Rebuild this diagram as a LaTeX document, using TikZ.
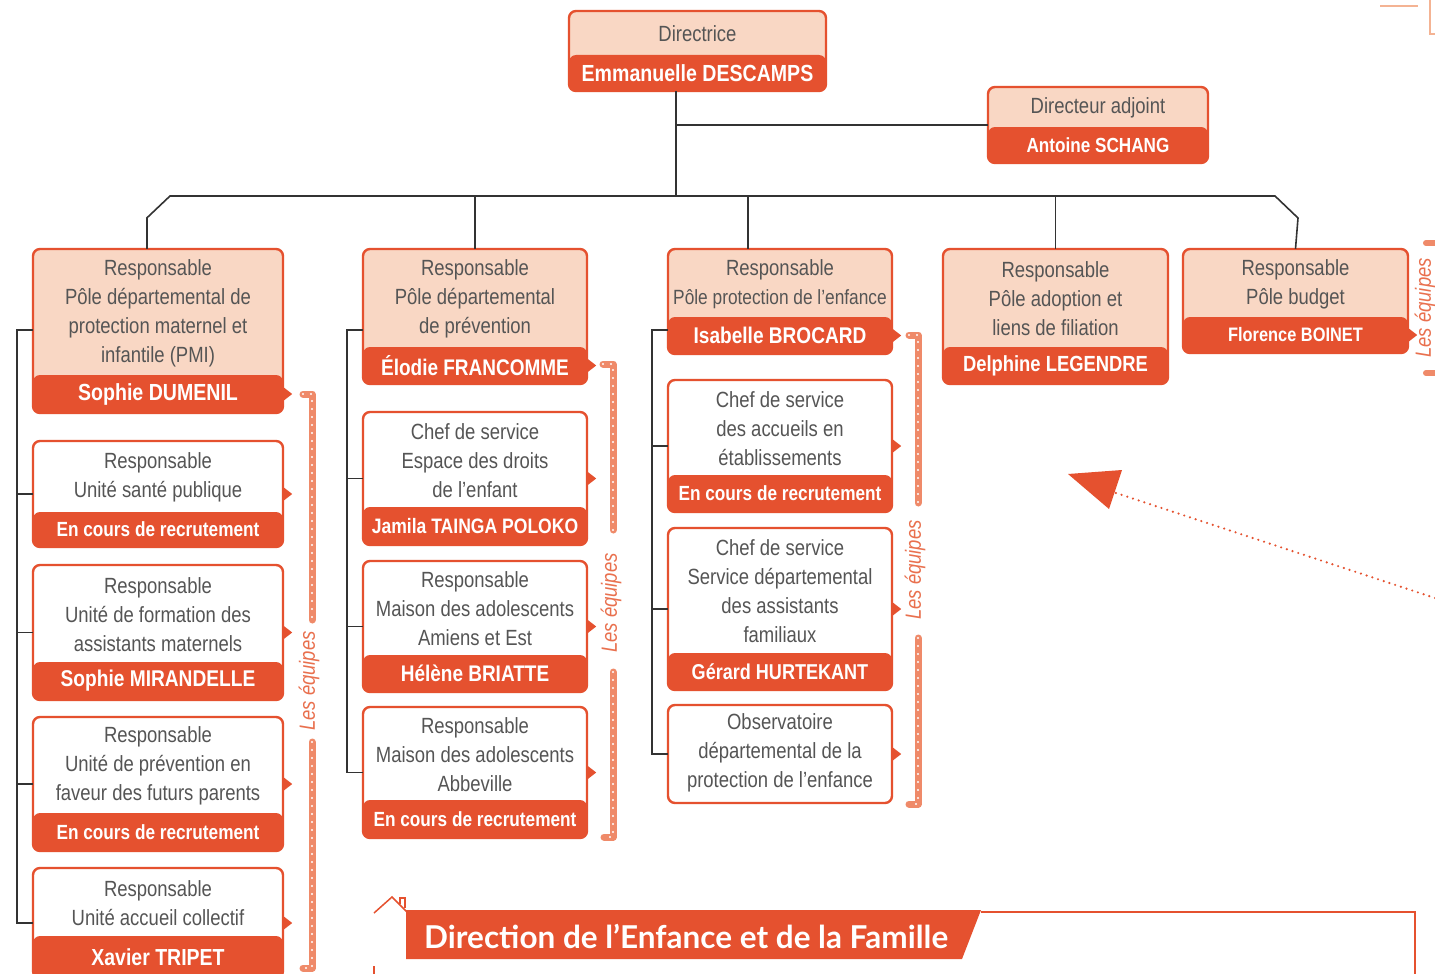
\documentclass[tikz,border=0pt]{standalone}
\usepackage{fontspec}
\setmainfont{Liberation Sans}[FakeStretch=0.84]
\newfontfamily\titlefont{Lato}
\usetikzlibrary{calc}
\definecolor{org}{HTML}{E5512F}
\definecolor{light}{HTML}{F9D7C4}
\definecolor{tgrey}{HTML}{555555}
\definecolor{barc}{HTML}{EF8A69}
\definecolor{eqc}{HTML}{E9704E}
\definecolor{paleorg}{HTML}{F4B393}
\definecolor{conc}{HTML}{333333}
\newcommand\fs[1]{\fontsize{#1}{#1}\selectfont}
\newcommand\obox[9]{%
 \node[inner sep=0pt,minimum width={(#4-#2)*1pt},minimum height={(#5-#3)*1pt}] (#1) at ({(#2+#4)/2},{(#3+#5)/2}) {};
 \fill[#7, rounded corners=7pt] (#2,#3) rectangle (#4,#5);
 \fill[org, rounded corners=7pt] (#2,#6) rectangle (#4,#5);
 \draw[org, line width=2.4pt, rounded corners=7pt] (#2,#3) rectangle (#4,#5);
 \node[txt] (#1-t) at ({(#2+#4)/2},{(#3+#6)/2+1}) {#8};
 \node[nm] (#1-n) at ({(#2+#4)/2},{(#6+#5)/2}) {#9};
}
\newcommand\ptr[1]{\fill[org] (#1) ++(0,-7) -- ++(9,7) -- ++(-9,7) -- cycle;}
\newcommand\teambar[1]{%
 \draw[barc, line width=7pt, line cap=round, line join=round] #1;
 \draw[white, line width=2.2pt, line cap=round, dash pattern=on 0pt off 8pt] #1;}
\begin{document}
\begin{tikzpicture}[x=1pt,y=-1pt,
  txt/.style={text=tgrey, align=center, inner sep=0pt, font=\fontsize{22}{29}\selectfont},
  nm/.style={text=white, inner sep=0pt, font=\bfseries},
  conn/.style={draw=conc, line width=1.6pt},
  eq/.style={text=eqc, rotate=90, inner sep=0pt, font=\itshape\fontsize{22}{22}\selectfont}]
\useasboundingbox (0,0) rectangle (1435,974);
\clip (0,0) rectangle (1435,974);
\fill[white] (0,0) rectangle (1435,974);

% top corner marks
\draw[paleorg, line width=2pt] (1380,6) -- (1418,6);
\draw[paleorg, line width=2pt] (1430,0) -- (1430,34) -- (1436,34);

% boxes
\obox{dir}{569}{11}{826}{91}{55}{light}{Directrice}{\fs{23.3}Emmanuelle DESCAMPS}
\obox{adj}{988}{87}{1208}{163}{127}{light}{Directeur adjoint}{\fs{20.4}Antoine SCHANG}

\obox{pmi}{33}{249}{283}{413}{375}{light}{Responsable\\Pôle départemental de\\protection maternel et\\infantile (PMI)}{\fs{23.3}Sophie DUMENIL}
\obox{pre}{363}{249}{587}{384}{347}{light}{Responsable\\Pôle départemental\\de prévention}{\fs{22.6}Élodie FRANCOMME}
\obox{pro}{668}{249}{892}{354}{317}{light}{Responsable\\{\fs{20.6}Pôle protection de l’enfance}}{\fs{22.7}Isabelle BROCARD}
\obox{ado}{943}{249}{1168}{384}{347}{light}{Responsable\\Pôle adoption et\\liens de filiation}{\fs{21.9}Delphine LEGENDRE}
\obox{bud}{1183}{249}{1408}{353}{317}{light}{Responsable\\Pôle budget}{\fs{19.5}Florence BOINET}

\obox{sante}{33}{441}{283}{547}{512}{white}{Responsable\\Unité santé publique}{\fs{20.5}En cours de recrutement}
\obox{form}{33}{565}{283}{700}{662}{white}{Responsable\\Unité de formation des\\assistants maternels}{\fs{22.8}Sophie MIRANDELLE}
\obox{fut}{33}{717}{283}{851}{813}{white}{Responsable\\Unité de prévention en\\faveur des futurs parents}{\fs{20.5}En cours de recrutement}
\obox{acc}{33}{868}{283}{978}{936}{white}{Responsable\\Unité accueil collectif}{\fs{23.2}Xavier TRIPET}

\obox{droit}{363}{412}{587}{545}{507}{white}{Chef de service\\Espace des droits\\de l’enfant}{\fs{20.9}Jamila TAINGA POLOKO}
\obox{ams}{363}{561}{587}{692}{655}{white}{Responsable\\Maison des adolescents\\Amiens et Est}{\fs{22.6}Hélène BRIATTE}
\obox{abb}{363}{707}{587}{838}{800}{white}{Responsable\\Maison des adolescents\\Abbeville}{\fs{20.5}En cours de recrutement}

\obox{etab}{668}{380}{892}{512}{475}{white}{Chef de service\\des accueils en\\établissements}{\fs{20.5}En cours de recrutement}
\obox{fam}{668}{528}{892}{690}{653}{white}{Chef de service\\Service départemental\\des assistants\\familiaux}{\fs{21.5}Gérard HURTEKANT}

\node[inner sep=0pt,minimum width=224pt,minimum height=98pt] (obs) at (780,754) {};
\draw[org, line width=2.4pt, rounded corners=7pt] (668,705) rectangle (892,803);
\node[txt] (obs-t) at (780,753) {Observatoire\\départemental de la\\protection de l’enfance};

% pointers
\ptr{pmi.east |- pmi-n}
\ptr{pre.east |- pre-n}
\ptr{pro.east |- pro-n}
\ptr{bud.east |- bud-n}
\foreach \b in {sante,form,fut,acc,droit,ams,abb,etab,fam,obs} {\ptr{\b.east}}

% tree connectors
\coordinate (dtop) at ([xshift=-21.5pt]dir.south);
\coordinate (busL) at (170,196);
\coordinate (busR) at (1275,196);
\draw[conn] (dtop) -- (dtop |- busL);
\draw[conn] (dtop |- adj.west) -- (adj.west);
\draw[conn] ([xshift=-11pt]pmi.north) -- ++(0,-31) -- (busL) -- (busR) -- ++(23,22) -- (bud.north);
\draw[conn] (pre.north) -- (pre.north |- busL);
\draw[conn] ([xshift=-32pt]pro.north) -- ([xshift=-32pt]pro.north |- busL);
\draw[conn] (ado.north) -- (ado.north |- busL);

\coordinate (row) at (0,330);
\coordinate (c1) at (17,330);
\coordinate (c2) at (347,330);
\coordinate (c3) at (652,330);
\draw[conn] (pmi.west |- row) -- (c1) |- (acc.west);
\foreach \b in {sante,form,fut} {\draw[conn] (c1 |- \b.west) -- (\b.west);}
\draw[conn] (pre.west |- row) -- (c2) |- (abb.west);
\foreach \b in {droit,ams} {\draw[conn] (c2 |- \b.west) -- (\b.west);}
\draw[conn] (pro.west |- row) -- (c3) |- (obs.west);
\foreach \b in {etab,fam} {\draw[conn] (c3 |- \b.west) -- (\b.west);}

% Les equipes bars
\teambar{(303,394) -- (312,394) -- (312,620)}
\node[eq] (eq1) at (309,681) {Les équipes};
\teambar{(312,742) -- (312,968) -- (303,968)}
\teambar{(603,364) -- (613,364) -- (613,530)}
\node[eq] (eq2) at (611,603) {Les équipes};
\teambar{(613,672) -- (613,837) -- (604,837)}
\teambar{(909,335) -- (918,335) -- (918,503)}
\node[eq] (eq3) at (915,570) {Les équipes};
\teambar{(918,638) -- (918,804) -- (909,804)}
\node[eq] (eq4) at (1425,308) {Les équipes};
\draw[barc, line width=6pt, line cap=round] (1426,243) -- (1440,243);
\draw[barc, line width=6pt, line cap=round] (1426,373) -- (1440,373);

% dotted arrow
\coordinate (arrS) at (1435,598);
\coordinate (arrE) at (1113,492);
\draw[org, line width=2.4pt, line cap=round, dash pattern=on 0pt off 6pt] (arrS) -- (arrE);
\fill[org] (1068,474) -- (1122,470) -- (1109,509) -- cycle;

% title banner
\fill[org] (406,910) -- (981,910) -- (962,959) -- (406,959) -- cycle;
\draw[org, line width=1.5pt] (374,913) -- (392,897) -- (412,917);
\draw[org, line width=1.5pt] (400,904) -- (400,898) -- (405,898) -- (405,908);
\draw[org, line width=1.5pt] (981,912) -- (1415,912) -- (1415,975);
\draw[org, line width=1.5pt] (374,966) -- (374,975);
\node[text=white, inner sep=0pt, anchor=west, font=\titlefont\bfseries\fontsize{31.5}{31.5}\selectfont] (title) at (424,936) {Direction de l’Enfance et de la Famille};
\end{tikzpicture}
\end{document}
